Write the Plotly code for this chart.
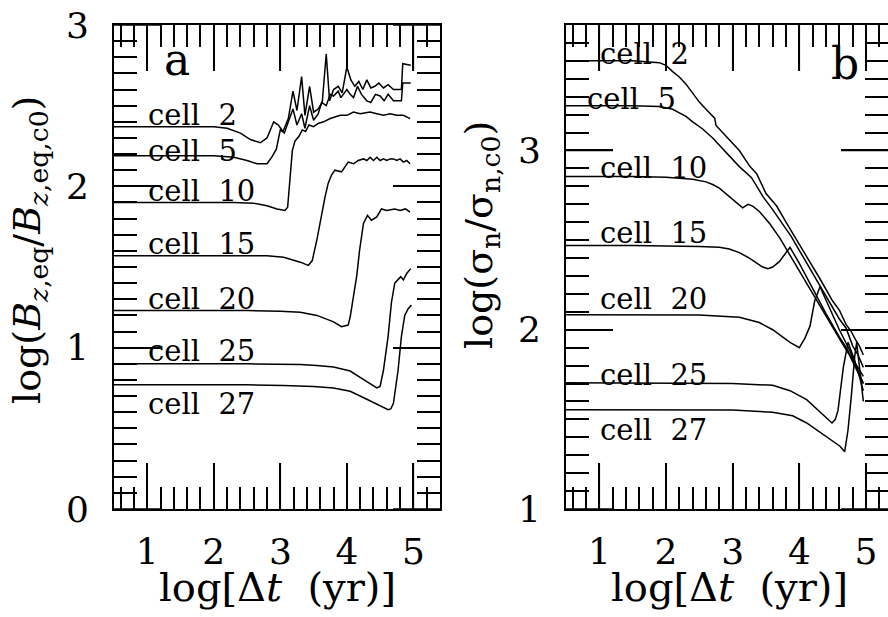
import plotly.graph_objects as go

# ---------------- data: panel a ----------------
cells = ["2", "5", "10", "15", "20", "25", "27"]

xa2 = [0.5, 1.5, 2.0, 2.2, 2.4, 2.55, 2.7, 2.8, 2.9, 2.97, 3.04, 3.12, 3.19, 3.25, 3.32, 3.37, 3.44, 3.50, 3.57, 3.63,
       3.69, 3.74, 3.80, 3.87, 3.93, 4.00, 4.06, 4.12, 4.18, 4.24, 4.30, 4.36, 4.42, 4.48, 4.55, 4.62, 4.70, 4.82, 4.84, 4.96]
ya2 = [2.37, 2.37, 2.37, 2.36, 2.33, 2.29, 2.27, 2.30, 2.40, 2.38, 2.34, 2.42, 2.59, 2.47, 2.68, 2.44, 2.62, 2.46, 2.48, 2.52,
       2.82, 2.53, 2.60, 2.62, 2.58, 2.74, 2.66, 2.62, 2.65, 2.60, 2.66, 2.61, 2.62, 2.64, 2.61, 2.63, 2.60, 2.60, 2.76, 2.75]

xa5 = [0.5, 1.5, 2.0, 2.3, 2.5, 2.65, 2.8, 2.87, 2.94, 3.0, 3.06, 3.12, 3.19, 3.25, 3.32, 3.37, 3.44, 3.50, 3.57, 3.62,
       3.69, 3.75, 3.80, 3.87, 3.91, 4.00, 4.05, 4.10, 4.16, 4.22, 4.30, 4.36, 4.43, 4.50, 4.56, 4.62, 4.70, 4.82, 4.84, 4.96]
ya5 = [2.19, 2.19, 2.19, 2.18, 2.16, 2.14, 2.14, 2.18, 2.23, 2.35, 2.33, 2.40, 2.48, 2.38, 2.45, 2.36, 2.50, 2.41, 2.45, 2.52,
       2.50, 2.57, 2.56, 2.59, 2.55, 2.60, 2.57, 2.55, 2.62, 2.57, 2.53, 2.52, 2.57, 2.56, 2.53, 2.57, 2.53, 2.53, 2.64, 2.64]

xa10 = [0.5, 1.5, 2.3, 2.6, 2.8, 2.95, 3.07, 3.11, 3.15, 3.18, 3.22, 3.28, 3.33, 3.38, 3.43, 3.50, 3.57, 3.65, 3.75,
        3.90, 4.00, 4.10, 4.20, 4.35, 4.45, 4.55, 4.65, 4.75, 4.85, 4.95]
ya10 = [1.90, 1.90, 1.90, 1.895, 1.88, 1.86, 1.85, 1.87, 2.05, 2.22, 2.28, 2.31, 2.35, 2.34, 2.38, 2.37, 2.39, 2.40, 2.42,
        2.44, 2.44, 2.46, 2.45, 2.46, 2.45, 2.44, 2.45, 2.44, 2.44, 2.42]

xa15 = [0.5, 1.5, 2.5, 2.8, 3.05, 3.3, 3.42, 3.48, 3.55, 3.62, 3.67, 3.72, 3.77, 3.82, 3.92, 4.02, 4.10, 4.17, 4.25, 4.30,
        4.35, 4.40, 4.45, 4.50, 4.55, 4.60, 4.65, 4.70, 4.75, 4.80, 4.85, 4.90, 4.95]
ya15 = [1.57, 1.57, 1.57, 1.57, 1.56, 1.53, 1.51, 1.54, 1.67, 1.83, 1.93, 2.02, 2.07, 2.10, 2.09, 2.15, 2.14, 2.16, 2.17, 2.16,
        2.18, 2.16, 2.18, 2.16, 2.17, 2.16, 2.17, 2.17, 2.16, 2.17, 2.15, 2.16, 2.14]

xa20 = [0.5, 1.5, 2.5, 3.0, 3.3, 3.55, 3.8, 3.92, 4.02, 4.05, 4.10, 4.15, 4.19, 4.25, 4.31, 4.37, 4.45, 4.52, 4.60, 4.72,
        4.80, 4.88, 4.95]
ya20 = [1.23, 1.23, 1.23, 1.225, 1.22, 1.20, 1.16, 1.13, 1.14, 1.19, 1.32, 1.45, 1.60, 1.77, 1.82, 1.79, 1.81, 1.86, 1.85, 1.86,
        1.85, 1.86, 1.84]

xa25 = [0.5, 1.5, 2.5, 3.3, 3.55, 3.8, 4.05, 4.3, 4.45, 4.50, 4.55, 4.62, 4.67, 4.72, 4.77, 4.81, 4.85, 4.90, 4.96]
ya25 = [0.90, 0.90, 0.90, 0.895, 0.89, 0.88, 0.855, 0.79, 0.75, 0.76, 0.86, 1.07, 1.28, 1.40, 1.42, 1.44, 1.42, 1.46, 1.49]

xa27 = [0.5, 1.5, 2.5, 3.05, 3.5, 3.8, 4.05, 4.3, 4.5, 4.62, 4.66, 4.70, 4.77, 4.82, 4.87, 4.92, 4.97]
ya27 = [0.77, 0.77, 0.77, 0.765, 0.76, 0.75, 0.73, 0.68, 0.64, 0.615, 0.62, 0.655, 0.86, 1.07, 1.20, 1.24, 1.265]

# ---------------- data: panel b ----------------
xb2 = [0.5, 1.5, 1.9, 2.0, 2.1, 2.2, 2.3, 2.4, 2.5, 2.6, 2.68, 2.73, 2.75, 2.9, 3.1, 3.26, 3.36, 3.5, 3.66, 3.8, 3.93,
       4.1, 4.3, 4.5, 4.6, 4.7, 4.78, 4.85, 4.9, 4.96]
yb2 = [3.50, 3.50, 3.49, 3.475, 3.44, 3.41, 3.37, 3.32, 3.27, 3.23, 3.20, 3.18, 3.14, 3.08, 3.00, 2.91, 2.87, 2.76, 2.69, 2.60,
       2.52, 2.42, 2.29, 2.16, 2.11, 2.03, 1.99, 1.94, 1.91, 1.86]

xb5 = [0.5, 1.5, 1.9, 2.1, 2.2, 2.3, 2.4, 2.55, 2.7, 2.75, 2.9, 3.1, 3.28, 3.46, 3.6, 3.76, 3.88, 4.05, 4.25, 4.45, 4.6,
       4.7, 4.8, 4.88, 4.96]
yb5 = [3.25, 3.25, 3.245, 3.23, 3.21, 3.19, 3.16, 3.12, 3.07, 3.05, 2.99, 2.91, 2.85, 2.74, 2.67, 2.58, 2.52, 2.41, 2.28, 2.15,
       2.06, 2.01, 1.91, 1.86, 1.79]

xb10 = [0.5, 1.5, 2.0, 2.4, 2.6, 2.7, 2.8, 2.9, 3.0, 3.1, 3.15, 3.23, 3.3, 3.4, 3.56, 3.71, 3.9, 4.1, 4.3, 4.5, 4.65, 4.75,
        4.85, 4.96]
yb10 = [2.855, 2.855, 2.85, 2.84, 2.825, 2.81, 2.79, 2.76, 2.73, 2.70, 2.68, 2.70, 2.69, 2.66, 2.59, 2.51, 2.39, 2.26, 2.14,
        2.01, 1.92, 1.86, 1.78, 1.70]

xb15 = [0.5, 1.5, 2.5, 2.8, 2.95, 3.1, 3.25, 3.36, 3.45, 3.53, 3.6, 3.7, 3.78, 3.86, 4.0, 4.2, 4.4, 4.6, 4.72, 4.8, 4.88,
        4.96]
yb15 = [2.47, 2.47, 2.465, 2.46, 2.45, 2.43, 2.40, 2.37, 2.35, 2.34, 2.35, 2.38, 2.42, 2.46, 2.37, 2.23, 2.09, 1.96, 1.89,
        1.83, 1.79, 1.74]

xb20 = [0.5, 1.5, 2.5, 3.1, 3.4, 3.6, 3.75, 3.86, 4.0, 4.08, 4.16, 4.23, 4.31, 4.45, 4.6, 4.75, 4.85, 4.96]
yb20 = [2.084, 2.084, 2.082, 2.07, 2.04, 2.00, 1.96, 1.93, 1.90, 1.95, 2.02, 2.16, 2.24, 2.12, 2.00, 1.89, 1.80, 1.70]

xb25 = [0.5, 1.5, 3.0, 3.6, 3.86, 4.11, 4.31, 4.42, 4.49, 4.54, 4.58, 4.66, 4.73, 4.78, 4.83, 4.9, 4.96]
yb25 = [1.704, 1.704, 1.70, 1.69, 1.66, 1.61, 1.54, 1.50, 1.48, 1.50, 1.55, 1.79, 1.93, 1.88, 1.83, 1.74, 1.66]

xb27 = [0.5, 1.5, 3.0, 3.6, 3.9, 4.11, 4.3, 4.41, 4.52, 4.61, 4.68, 4.73, 4.78, 4.83, 4.86, 4.91, 4.96]
yb27 = [1.553, 1.553, 1.552, 1.54, 1.52, 1.48, 1.43, 1.40, 1.37, 1.35, 1.32, 1.44, 1.63, 1.85, 1.93, 1.75, 1.60]

x_ticks = [1, 2, 3, 4, 5]
ya_ticks = [0, 1, 2, 3]
yb_ticks = [1, 2, 3]

# label anchor positions (data coords) for the "cell N" texts
lab_a_x = [0.98, 0.98, 0.98, 0.98, 0.98, 0.98, 0.98]
lab_a_y = [2.44, 2.22, 1.97, 1.64, 1.30, 0.98, 0.65]
lab_b_x = [0.98, 0.78, 0.98, 0.98, 0.98, 0.98, 0.98]
lab_b_y = [3.54, 3.29, 2.90, 2.54, 2.17, 1.75, 1.44]

FONT = "DejaVu Serif"
W, H = 888, 617

fig = go.Figure()

series_a = [(xa2, ya2), (xa5, ya5), (xa10, ya10), (xa15, ya15), (xa20, ya20), (xa25, ya25), (xa27, ya27)]
series_b = [(xb2, yb2), (xb5, yb5), (xb10, yb10), (xb15, yb15), (xb20, yb20), (xb25, yb25), (xb27, yb27)]

for xs, ys in series_a:
    fig.add_trace(go.Scatter(x=xs, y=ys, mode="lines", line=dict(color="black", width=1.5),
                             xaxis="x", yaxis="y", showlegend=False, hoverinfo="skip"))
for xs, ys in series_b:
    fig.add_trace(go.Scatter(x=xs, y=ys, mode="lines", line=dict(color="black", width=1.5),
                             xaxis="x2", yaxis="y2", showlegend=False, hoverinfo="skip"))

def px_x(p):
    return p / W

def px_y(p):
    return 1 - p / H

dom_y = [px_y(509), px_y(25)]

common_x = dict(
    tickvals=x_ticks, ticktext=[str(v) for v in x_ticks],
    ticks="inside", ticklen=46, tickwidth=1.5, tickcolor="black",
    minor=dict(dtick=0.2, tick0=0, ticks="inside", ticklen=22, tickwidth=1.5, tickcolor="black"),
    showline=True, linecolor="black", linewidth=2, mirror="ticks",
    showgrid=False, zeroline=False, automargin=False,
    tickfont=dict(family=FONT, size=36, color="black"),
    ticklabelstandoff=10,
)
common_y = dict(
    ticks="inside", ticklen=47, tickwidth=1.5, tickcolor="black",
    minor=dict(dtick=0.1, tick0=0, ticks="inside", ticklen=23, tickwidth=1.5, tickcolor="black"),
    showline=True, linecolor="black", linewidth=2, mirror="ticks",
    showgrid=False, zeroline=False, automargin=False,
    tickfont=dict(family=FONT, size=36, color="black"),
    ticklabelstandoff=16,
)

fig.update_layout(
    width=W, height=H,
    margin=dict(l=0, r=0, t=0, b=0),
    paper_bgcolor="white", plot_bgcolor="white",
    xaxis=dict(domain=[px_x(114), px_x(440)], range=[0.5, 5.4], anchor="y", **common_x),
    yaxis=dict(domain=dom_y, range=[0, 3.0], anchor="x",
               tickvals=ya_ticks, ticktext=[str(v) for v in ya_ticks], **common_y),
    xaxis2=dict(domain=[px_x(566), 1.0], range=[0.5, 5.33], anchor="y2", **common_x),
    yaxis2=dict(domain=dom_y, range=[1, 3.7], anchor="x2",
                tickvals=yb_ticks, ticktext=[str(v) for v in yb_ticks], **common_y),
)

# major ticks drawn explicitly on all four sides (in axis coordinates)
shapes = []
tick_line = dict(color="black", width=1.5)
fx_a = 47 / 326.0
fx_b = 47 / 322.0
fy = 46 / 484.0
for xr, yr, fxw, yt in (("x", "y", fx_a, ya_ticks), ("x2", "y2", fx_b, yb_ticks)):
    for v in x_ticks:
        shapes.append(dict(type="line", xref=xr, yref=yr + " domain", x0=v, x1=v, y0=0, y1=fy, line=tick_line))
        shapes.append(dict(type="line", xref=xr, yref=yr + " domain", x0=v, x1=v, y0=1 - fy, y1=1, line=tick_line))
    for v in yt:
        shapes.append(dict(type="line", xref=xr + " domain", yref=yr, x0=0, x1=fxw, y0=v, y1=v, line=tick_line))
        shapes.append(dict(type="line", xref=xr + " domain", yref=yr, x0=1 - fxw, x1=1, y0=v, y1=v, line=tick_line))

ann = []
for i, c in enumerate(cells):
    ann.append(dict(x=lab_a_x[i], y=lab_a_y[i], xref="x", yref="y", text="cell\u00a0\u00a0" + c,
                    showarrow=False, xanchor="left", yanchor="middle",
                    font=dict(family=FONT, size=29, color="black")))
    ann.append(dict(x=lab_b_x[i], y=lab_b_y[i], xref="x2", yref="y2", text="cell\u00a0\u00a0" + c,
                    showarrow=False, xanchor="left", yanchor="middle",
                    font=dict(family=FONT, size=29, color="black")))

# panel letters
ann.append(dict(x=px_x(177), y=px_y(60), xref="paper", yref="paper", text="a", showarrow=False,
                xanchor="center", yanchor="middle", font=dict(family=FONT, size=44, color="black")))
ann.append(dict(x=px_x(845), y=px_y(63), xref="paper", yref="paper", text="b", showarrow=False,
                xanchor="center", yanchor="middle", font=dict(family=FONT, size=44, color="black")))

# axis titles
xt = "log[\u0394<i>t</i>\u00a0\u00a0(yr)]"
ann.append(dict(x=px_x(277), y=px_y(587), xref="paper", yref="paper", text=xt, showarrow=False,
                xanchor="center", yanchor="middle", font=dict(family=FONT, size=40, color="black")))
ann.append(dict(x=px_x(729), y=px_y(587), xref="paper", yref="paper", text=xt, showarrow=False,
                xanchor="center", yanchor="middle", font=dict(family=FONT, size=40, color="black")))
ann.append(dict(x=px_x(30), y=px_y(250), xref="paper", yref="paper",
                text="log(<i>B</i><sub><i>z</i>,eq</sub>/<i>B</i><sub><i>z</i>,eq,c0</sub>)",
                textangle=-90, showarrow=False, xanchor="center", yanchor="middle",
                font=dict(family=FONT, size=38, color="black")))
ann.append(dict(x=px_x(481), y=px_y(235), xref="paper", yref="paper",
                text="log(\u03c3<sub>n</sub>/\u03c3<sub>n,c0</sub>)",
                textangle=-90, showarrow=False, xanchor="center", yanchor="middle",
                font=dict(family=FONT, size=38, color="black")))

fig.update_layout(annotations=ann, shapes=shapes)

fig.write_html("out.html", config={"displayModeBar": False},
               post_script="document.body.style.margin='0px';document.body.style.overflow='hidden';")
